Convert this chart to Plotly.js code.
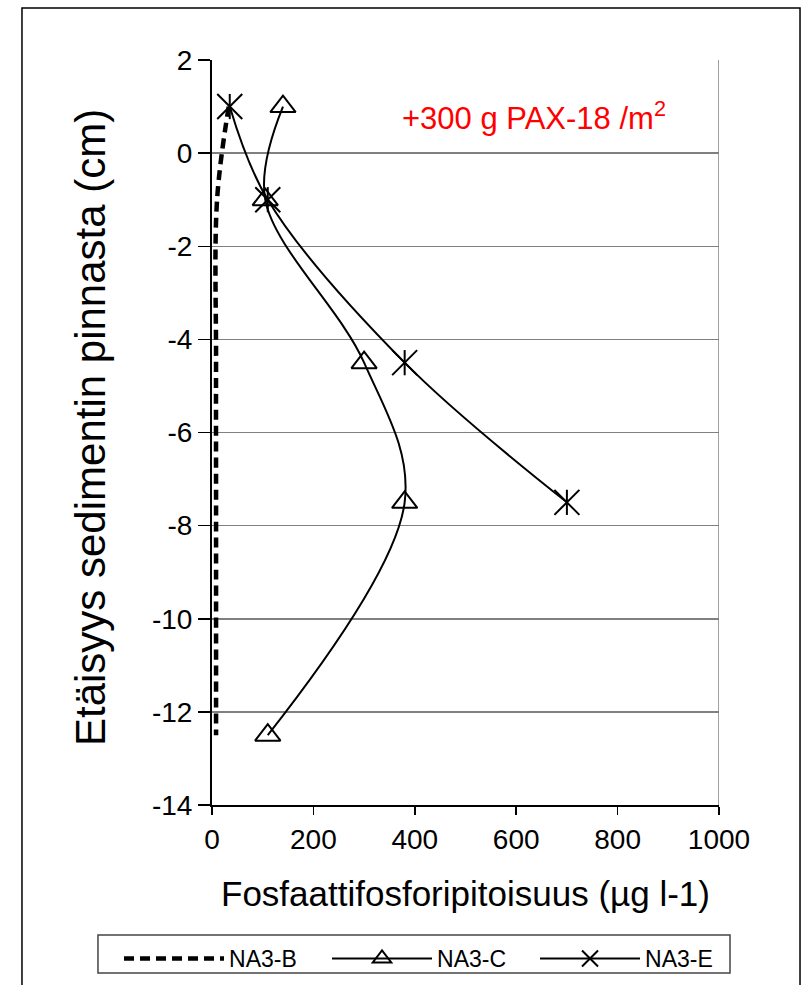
<!DOCTYPE html>
<html>
<head>
<meta charset="utf-8">
<script src="https://cdn.plot.ly/plotly-3.0.1.min.js"></script>
<style>
html,body{margin:0;padding:0;background:#fff;}
#chart{width:807px;height:985px;}
</style>
</head>
<body>
<div id="chart"></div>
<script>
// Depth (cm from sediment surface)
const depthB = [1, -1, -4.5, -7.5, -12.5];
const depthC = [1, -1, -4.5, -7.5, -12.5];
const depthE = [1, -1, -4.5, -7.5];
// Phosphate phosphorus (µg l-1)
const valuesB = [33, 10, 8, 8, 8];
const valuesC = [140, 105, 300, 380, 110];
const valuesE = [35, 110, 380, 700];
const seriesNames = ["NA3-B", "NA3-C", "NA3-E"];
const yTicks = [2, 0, -2, -4, -6, -8, -10, -12, -14];
const xTicks = [0, 200, 400, 600, 800, 1000];

const FONT = "Liberation Sans, Arial, sans-serif";

const traces = [
  {
    x: valuesB, y: depthB, name: seriesNames[0], type: "scatter", mode: "lines",
    line: {color: "#000", width: 4.5, dash: "10px,6px", shape: "spline", smoothing: 1}
  },
  {
    x: valuesC, y: depthC, name: seriesNames[1], type: "scatter", mode: "lines+markers",
    line: {color: "#000", width: 2, shape: "spline", smoothing: 1},
    marker: {symbol: "triangle-up-open", size: 22, color: "#000", line: {color: "#000", width: 2}}
  },
  {
    x: valuesE, y: depthE, name: seriesNames[2], type: "scatter", mode: "lines+markers",
    legendgroup: "E",
    line: {color: "#000", width: 2, shape: "spline", smoothing: 1},
    marker: {symbol: "x-thin-open", size: 25, color: "#000", line: {color: "#000", width: 2}}
  },
  {
    x: valuesE, y: depthE, name: seriesNames[2], type: "scatter", mode: "markers",
    legendgroup: "E", showlegend: false, hoverinfo: "skip",
    marker: {symbol: "line-ns-open", size: 18, color: "#000", line: {color: "#000", width: 2}}
  }
];

const layout = {
  width: 807, height: 985,
  paper_bgcolor: "#fff", plot_bgcolor: "#fff",
  margin: {l: 212, r: 88, t: 60, b: 180, pad: 0, autoexpand: false},
  font: {family: FONT, color: "#000"},
  showlegend: true,
  xaxis: {
    range: [0, 1000], tickvals: xTicks, ticktext: xTicks.map(String),
    showgrid: false, zeroline: false,
    showline: true, linecolor: "#000", linewidth: 2,
    ticks: "outside", ticklen: 8, tickwidth: 1.5, tickcolor: "#000",
    tickfont: {family: FONT, size: 28, color: "#000"},
    title: {text: "Fosfaattifosforipitoisuus (µg l-1)", font: {family: FONT, size: 35, color: "#000"}, standoff: 28},
    fixedrange: true
  },
  yaxis: {
    range: [-14, 2], tickvals: yTicks, ticktext: yTicks.map(String),
    showgrid: true, gridcolor: "#808080", gridwidth: 1.5, zeroline: false,
    showline: true, linecolor: "#000", linewidth: 2,
    ticks: "outside", ticklen: 12, tickwidth: 1.5, tickcolor: "#000",
    tickfont: {family: FONT, size: 28, color: "#000"},
    fixedrange: true
  },
  legend: {
    orientation: "h", x: -0.1834, xanchor: "left",
    y: -0.1772, yanchor: "top",
    borderwidth: 0, bgcolor: "rgba(0,0,0,0)",
    font: {family: FONT, size: 23, color: "#000"},
    itemwidth: 100, entrywidth: 93, entrywidthmode: "pixels",
    traceorder: "normal"
  },
  shapes: [
    {type: "line", xref: "x", yref: "paper", x0: 1000, x1: 1000, y0: 0, y1: 1, line: {color: "#808080", width: 1.5}},
    {type: "rect", xref: "paper", yref: "paper", x0: -0.3748, x1: 1.1598, y0: -0.26, y1: 1.0698, line: {color: "#000", width: 1.5}, layer: "below"},
    {type: "rect", xref: "paper", yref: "paper", x0: -0.2249, x1: 1.0217, y0: -0.1745, y1: -0.2255, line: {color: "#444", width: 1.5}, layer: "below"}
  ],
  annotations: [
    {xref: "x", yref: "y", x: 371, y: 0.8, xanchor: "left", yanchor: "middle", showarrow: false,
     text: "+300 g PAX-18 /m<sup>2</sup>", font: {family: FONT, size: 31, color: "#ff0000"}},
    {xref: "paper", yref: "paper", x: -0.2406, y: 0.506, xanchor: "center", yanchor: "middle", showarrow: false,
     textangle: -90, text: "Etäisyys sedimentin pinnasta (cm)", font: {family: FONT, size: 42, color: "#000"}}
  ]
};

Plotly.newPlot("chart", traces, layout, {displayModeBar: false, staticPlot: true});
</script>
</body>
</html>
